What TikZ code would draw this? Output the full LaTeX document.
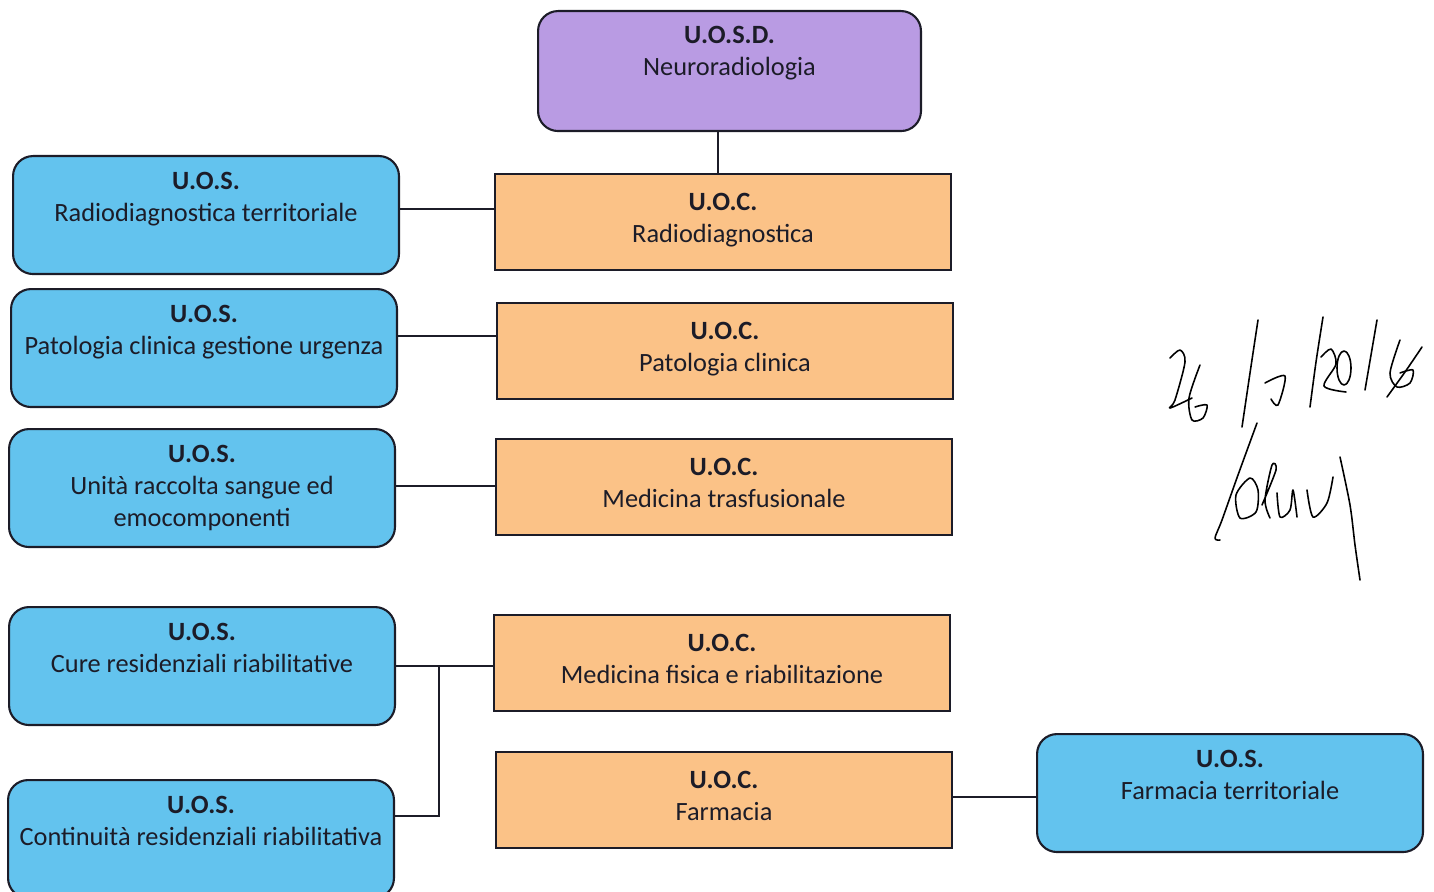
\documentclass[tikz,border=0pt]{standalone}
\usepackage{fontspec}
\setmainfont{Carlito}
\usetikzlibrary{positioning}

\definecolor{uosdfill}{RGB}{185,155,227}
\definecolor{uosfill}{RGB}{99,195,238}
\definecolor{uocfill}{RGB}{251,194,135}
\definecolor{ink}{RGB}{28,28,40}

% title on the first line, name below; baseline on the first line
\newcommand{\unitlabel}[2]{\begin{tabular}[t]{@{}c@{}}\textbf{#1}\\#2\end{tabular}}

\tikzset{
  box/.style={draw=ink, line width=1.2pt, anchor=north west,
    inner sep=0pt, text=ink, font=\fontsize{15}{18.4}\selectfont},
  uosdbox/.style={box, fill=uosdfill, rounded corners=0.4cm, minimum width=7.66cm,
    text height=0.64cm, text depth=1.76cm},
  uosbox/.style={box, fill=uosfill, rounded corners=0.4cm, minimum width=7.72cm,
    text height=0.66cm, text depth=1.70cm},
  uocbox/.style={box, fill=uocfill, minimum width=9.12cm,
    text height=0.72cm, text depth=1.20cm},
  link/.style={draw=ink, line width=1.1pt},
  pen/.style={line width=0.9pt, line cap=round, line join=round},
}

\begin{document}
\begin{tikzpicture}[x=0.02cm, y=-0.02cm]
    \useasboundingbox (0,0) rectangle (1434,892);
    \clip (0,0) rectangle (1434,892);

    % top unit
    \node[uosdbox] (neuro) at (537,10) {\unitlabel{U.O.S.D.}{Neuroradiologia}};

    % U.O.C. column
    \node[uocbox] (radio)  at (494,173) {\unitlabel{U.O.C.}{Radiodiagnostica}};
    \node[uocbox] (patcl)  at (496,302) {\unitlabel{U.O.C.}{Patologia clinica}};
    \node[uocbox] (trasf)  at (495,438) {\unitlabel{U.O.C.}{Medicina trasfusionale}};
    \node[uocbox] (fisica) at (493,614) {\unitlabel{U.O.C.}{Medicina fisica e riabilitazione}};
    \node[uocbox] (farm)   at (495,751) {\unitlabel{U.O.C.}{Farmacia}};

    % U.O.S. units
    \node[uosbox] (radtl)  at (12,155) {\unitlabel{U.O.S.}{Radiodiagnostica territoriale}};
    \node[uosbox] (patgu)  at (10,288) {\unitlabel{U.O.S.}{Patologia clinica gestione urgenza}};
    \node[uosbox] (sangue) at (8,428) {\unitlabel{U.O.S.}{Unità raccolta sangue ed\\emocomponenti}};
    \node[uosbox] (cure)   at (8,606) {\unitlabel{U.O.S.}{Cure residenziali riabilitative}};
    \node[uosbox] (contin) at (7,779) {\unitlabel{U.O.S.}{Continuità residenziali riabilitativa}};
    \node[uosbox] (farmt)  at (1036,733) {\unitlabel{U.O.S.}{Farmacia territoriale}};

    % connectors
    \draw[link] ([xshift=-0.23cm]neuro.south) -- ([xshift=-0.23cm]neuro.south |- radio.north);
    \draw[link] (radtl.east |- 0,209) -- (radio.west |- 0,209);
    \draw[link] (patgu.east |- 0,336) -- (patcl.west |- 0,336);
    \draw[link] (sangue.east |- 0,486) -- (trasf.west |- 0,486);
    \draw[link] (cure.east |- 0,666) -- (fisica.west |- 0,666);
    \coordinate (split) at (439,666);
    \draw[link] (split) |- (contin.east |- 0,816);
    \draw[link] (farm.east |- 0,797) -- (farmt.west |- 0,797);

    % handwritten date and signature
    \draw[pen] plot[smooth] coordinates {(1170,358) (1180,350) (1185,362) (1175,400) (1170,408) (1192,398)};
    \draw[pen] plot[smooth] coordinates {(1200,365) (1189,398) (1192,420) (1203,418) (1207,405) (1195,407)};
    \draw[pen] plot[smooth] coordinates {(1258,320) (1250,373) (1242,427)};
    \draw[pen] plot[smooth] coordinates {(1265,383) (1285,376) (1278,405) (1271,399)};
    \draw[pen] plot[smooth] coordinates {(1323,317) (1316,362) (1310,407)};
    \draw[pen] plot[smooth] coordinates {(1321,357) (1331,349) (1336,364) (1324,386) (1346,392)};
    \draw[pen] (1344,368) ellipse [x radius=7, y radius=17];
    \draw[pen] plot[smooth] coordinates {(1377,320) (1371,355) (1365,390)};
    \draw[pen] plot[smooth] coordinates {(1400,340) (1390,373) (1397,387) (1410,383) (1413,370) (1400,373)};
    \draw[pen] plot[smooth] coordinates {(1422,347) (1405,372) (1387,397)};
    \draw[pen] plot[smooth] coordinates {(1257,423) (1238,475) (1222,520) (1215,538) (1220,540)};
    \draw[pen] plot[smooth cycle] coordinates {(1250,478) (1236,495) (1240,518) (1256,512) (1258,490)};
    \draw[pen] plot[smooth] coordinates {(1262,505) (1276,470) (1272,465) (1265,500) (1270,518)};
    \draw[pen] plot[smooth] coordinates {(1277,493) (1280,517) (1290,510) (1293,490) (1297,517)};
    \draw[pen] plot[smooth] coordinates {(1307,490) (1313,517) (1327,503) (1333,477)};
    \draw[pen] plot[smooth] coordinates {(1340,457) (1350,505) (1355,545) (1360,580)};

\end{tikzpicture}
\end{document}
